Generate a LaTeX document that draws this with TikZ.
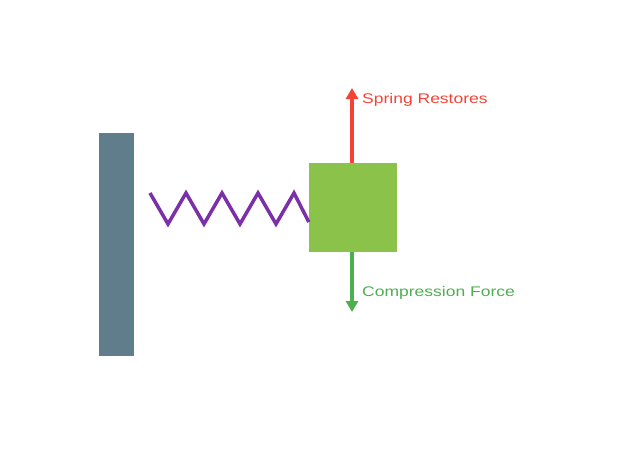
\documentclass[tikz,border=0pt]{standalone}
\usepackage{fontspec}
\setmainfont{Liberation Sans}
\newfontfamily\widefont[FakeStretch=1.25]{Liberation Sans}
\definecolor{wallc}{HTML}{607D8B}
\definecolor{springc}{HTML}{7B2FA8}
\definecolor{blockc}{HTML}{8BC34A}
\definecolor{redc}{HTML}{F44336}
\definecolor{greenc}{HTML}{4CAF50}
\usetikzlibrary{arrows.meta}
\tikzset{lbl/.style={anchor=west,inner sep=0pt,font=\widefont\fontsize{14}{16}\selectfont},
force/.style={line width=4pt,-{Triangle[length=11pt,width=12pt]}}}
\begin{document}
\begin{tikzpicture}[x=1pt,y=-1pt]
\useasboundingbox (0,0) rectangle (617,467);
\fill[wallc] (99,133) rectangle (134,356);
\node[draw=none,fill=blockc,minimum width=88pt,minimum height=89pt,inner sep=0pt] (b) at (353,207.5) {};
\draw[springc,line width=3.5pt,line join=miter] (150,193) -- (168,224) -- (186,193) -- (204,224) -- (222,193) -- (240,224) -- (258,193) -- (276,224) -- (294,193) -- (b.west |- 0,222);
\coordinate (rt) at (352,88);
\coordinate (gt) at (352,312);
\draw[force,redc] (352,163) -- (rt);
\draw[force,greenc] (352,252) -- (gt);
\node[lbl,text=redc] (l1) at (362,100) {Spring Restores};
\node[lbl,text=greenc] (l2) at (362,293) {Compression Force};
\end{tikzpicture}
\end{document}
